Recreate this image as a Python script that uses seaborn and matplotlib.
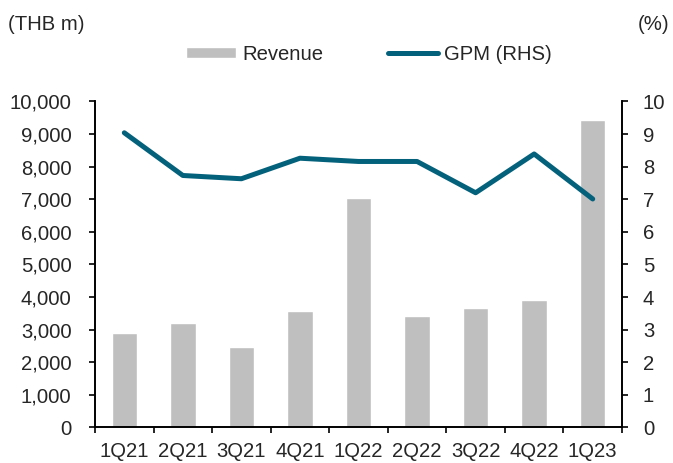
import numpy as np
import matplotlib
matplotlib.use("Agg")
import matplotlib.pyplot as plt
import seaborn as sns

# data
quarters = ["1Q21", "2Q21", "3Q21", "4Q21", "1Q22", "2Q22", "3Q22", "4Q22", "1Q23"]
revenue = [2890, 3190, 2480, 3560, 7030, 3430, 3670, 3920, 9430]  # THB m
gpm = [9.04, 7.73, 7.63, 8.26, 8.16, 8.16, 7.20, 8.39, 7.01]  # %

left_ticks = [0, 1000, 2000, 3000, 4000, 5000, 6000, 7000, 8000, 9000, 10000]
right_ticks = [0, 1, 2, 3, 4, 5, 6, 7, 8, 9, 10]

bar_col = "#bfbfbf"
line_col = "#04617b"
fs = 14.6

sns.set_style("white")
plt.rcParams["font.family"] = ["Liberation Sans", "DejaVu Sans"]
plt.rcParams["font.size"] = fs

fig = plt.figure(figsize=(6.73, 4.63), dpi=100)
ax = fig.add_axes([0.1412, 0.0767, 0.783, 0.7041])

sns.barplot(x=quarters, y=revenue, color=bar_col, width=0.434,
            saturation=1, ax=ax, label="Revenue")

ax2 = ax.twinx()
pos = np.arange(len(quarters))
sns.lineplot(x=pos, y=gpm, color=line_col, linewidth=3.6, ax=ax2,
             label="GPM (RHS)", solid_capstyle="round")

ax.set_xlim(-0.5, len(quarters) - 0.5)
ax.set_ylim(0, 10000)
ax2.set_ylim(0, 10)
ax.set_yticks(left_ticks)
ax.set_yticklabels([f"{v:,}" for v in left_ticks])
ax2.set_yticks(right_ticks)
ax.set_xlabel("")
ax.set_ylabel("")
ax2.set_ylabel("")

# x labels at centres, tick marks at category boundaries
ax.set_xticks(pos)
ax.set_xticklabels(quarters)
ax.set_xticks(np.arange(len(quarters) + 1) - 0.5, minor=True)
ax.tick_params(axis="x", which="major", length=0, pad=10.5, labelsize=fs)
ax.tick_params(axis="x", which="minor", length=4, width=1.2, direction="out",
               color="black", bottom=True)
ax.tick_params(axis="y", which="major", length=4, width=1.2, direction="out",
               pad=13, labelsize=fs, color="black", left=True)
ax2.tick_params(axis="y", which="major", length=4, width=1.2, direction="out",
                pad=11, labelsize=fs, color="black", right=True)

for a in (ax, ax2):
    a.spines["top"].set_visible(False)
    for s in ("left", "right", "bottom"):
        a.spines[s].set_color("black")
        a.spines[s].set_linewidth(1.2)

h1, l1 = ax.get_legend_handles_labels()
h2, l2 = ax2.get_legend_handles_labels()
ax.get_legend().remove()
ax2.get_legend().remove()
fig.legend(h1 + h2, l1 + l2, loc="center", bbox_to_anchor=(0.548, 0.883),
           ncol=2, frameon=False, fontsize=fs, handlelength=2.45,
           handleheight=0.48, handletextpad=0.3, columnspacing=3.2,
           borderaxespad=0)

fig.text(0.012, 0.948, "(THB m)", ha="left", va="center", fontsize=fs)
fig.text(0.994, 0.948, "(%)", ha="right", va="center", fontsize=fs)

fig.savefig("out.png", dpi=100)
